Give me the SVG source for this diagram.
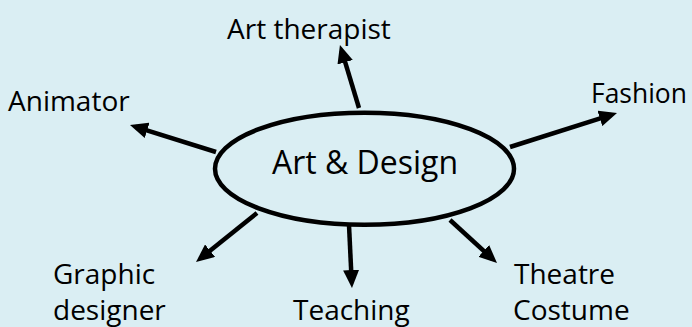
<svg xmlns="http://www.w3.org/2000/svg" width="692" height="327" viewBox="0 0 692 327">
<style>
.lbl{font-family:"Open Sans","Noto Sans","Liberation Sans",sans-serif;font-size:28px;fill:#000}
.main{font-size:32px}
.conn{stroke:#000;stroke-width:4.5;fill:none;marker-end:url(#ah)}
</style>
<defs>
<marker id="ah" markerUnits="userSpaceOnUse" markerWidth="18" markerHeight="16" refX="12" refY="8" orient="auto">
<path d="M0,0 L18,8 L0,16 z" fill="#000"/>
</marker>
</defs>
<rect x="0" y="0" width="692" height="327" fill="#DAEEF3"/>
<g id="connectors">
<line class="conn" x1="359" y1="108" x2="341.7" y2="50.7"/>
<line class="conn" x1="216" y1="152" x2="135.7" y2="126.8"/>
<line class="conn" x1="510" y1="147" x2="611.3" y2="114.8"/>
<line class="conn" x1="257" y1="213" x2="200.7" y2="258.2"/>
<line class="conn" x1="349" y1="225" x2="351.7" y2="282"/>
<line class="conn" x1="450" y1="220" x2="492.6" y2="259"/>
</g>
<g id="center">
<ellipse cx="364.5" cy="168.75" rx="149.5" ry="56" fill="#DAEEF3" stroke="#000" stroke-width="4.5"/>
<text class="lbl main" x="365" y="174" text-anchor="middle">Art &amp; Design</text>
</g>
<g id="art-therapist"><text class="lbl" x="227" y="39">Art therapist</text></g>
<g id="animator"><text class="lbl" x="8" y="111">Animator</text></g>
<g id="fashion"><text class="lbl" x="591" y="103" textLength="96" lengthAdjust="spacingAndGlyphs">Fashion</text></g>
<g id="graphic-designer"><text class="lbl" x="53" y="284">Graphic<tspan x="53" y="320">designer</tspan></text></g>
<g id="teaching"><text class="lbl" x="293" y="320">Teaching</text></g>
<g id="theatre-costume"><text class="lbl" x="514" y="284">Theatre<tspan x="513" y="320">Costume</tspan></text></g>
</svg>
